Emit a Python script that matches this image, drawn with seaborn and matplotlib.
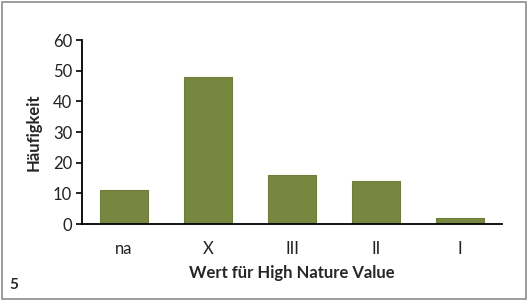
import matplotlib
matplotlib.use("Agg")
import matplotlib.pyplot as plt
import seaborn as sns
import pandas as pd
from matplotlib.patches import Rectangle

categories = ["na", "X", "III", "II", "I"]
values = [11, 48, 16, 14, 2]
yticks = [0, 10, 20, 30, 40, 50, 60]

sns.set_theme(style="white")
plt.rcParams["font.family"] = ["Lato", "DejaVu Sans"]

df = pd.DataFrame({"cat": categories, "val": values})

fig = plt.figure(figsize=(5.28, 3.04), dpi=100)
ax = fig.add_axes([0.1553, 0.263, 0.7955, 0.605])
sns.barplot(data=df, x="cat", y="val", ax=ax, color="#77873F",
            saturation=1, width=0.56, edgecolor="#6E7D3A", linewidth=0.8)

ax.set_ylim(0, 60)
ax.set_yticks(yticks)
ax.set_xlim(-0.5, len(categories) - 0.5)
for s in ["top", "right"]:
    ax.spines[s].set_visible(False)
ax.spines["left"].set_color("black")
ax.spines["bottom"].set_color("black")
ax.spines["left"].set_linewidth(1.3)
ax.spines["bottom"].set_linewidth(1.3)
ax.tick_params(axis="y", length=4, width=1.2, color="black", direction="out",
               labelsize=12, pad=3, left=True)
ax.tick_params(axis="x", length=0, labelsize=12, pad=12)
for lab in ax.get_xticklabels() + ax.get_yticklabels():
    lab.set_color("#222222")

ax.set_ylabel("Häufigkeit", fontsize=12, fontweight="bold", labelpad=8)
ax.set_xlabel("Wert für High Nature Value", fontsize=12, fontweight="bold", labelpad=6)

fig.patches.append(Rectangle((1.5 / 528, 5.5 / 304), 524 / 528, 297 / 304,
                             transform=fig.transFigure, fill=False,
                             edgecolor="#8C8C8C", linewidth=1.2))
fig.text(14 / 528, 1 - 285 / 304, "5", fontsize=11, fontweight="bold",
         ha="center", va="center")

fig.savefig("out.png", dpi=100)
